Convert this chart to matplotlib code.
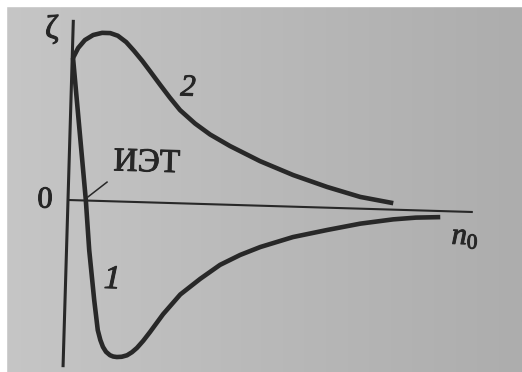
import numpy as np
import matplotlib.pyplot as plt
import matplotlib.patheffects as pe
from matplotlib.colors import LinearSegmentedColormap
from matplotlib.patches import Rectangle
from matplotlib.transforms import Affine2D

plt.rcParams['font.family'] = ['Liberation Serif', 'DejaVu Serif']
plt.rcParams['mathtext.fontset'] = 'custom'
plt.rcParams['mathtext.it'] = 'Liberation Serif:italic'
plt.rcParams['mathtext.rm'] = 'Liberation Serif'

# curve 1: zeta potential crossing zero at the isoelectric point
n0_1 = [0.02, 0.44, 0.56, 0.72, 0.83, 0.90, 0.97, 1.05, 1.15, 1.23, 1.32, 1.44,
        1.57, 1.69, 1.81, 1.96, 2.12, 2.43, 2.84, 3.32, 3.80, 4.29, 4.78, 5.58,
        6.42, 7.23, 8.04, 8.60, 9.20]
zeta_1 = [3.51, 0.01, -1.22, -2.45, -3.19, -3.43, -3.60, -3.72, -3.80, -3.83, -3.84, -3.83,
          -3.79, -3.71, -3.60, -3.42, -3.20, -2.75, -2.25, -1.85, -1.49, -1.23, -1.02, -0.75,
          -0.55, -0.37, -0.24, -0.18, -0.15]

# curve 2: stays positive, goes through a maximum
n0_2 = [0.02, 0.14, 0.30, 0.50, 0.72, 0.92, 1.11, 1.32, 1.52, 1.73, 1.93,
        2.19, 2.44, 2.70, 3.08, 3.46, 3.96, 4.71, 5.54, 6.39, 7.21, 8.03]
zeta_2 = [3.51, 3.76, 3.96, 4.09, 4.15, 4.15, 4.09, 3.94, 3.73, 3.49, 3.24,
          2.91, 2.60, 2.30, 1.98, 1.72, 1.45, 1.10, 0.78, 0.51, 0.29, 0.16]

N0_END = 10.0
ZETA_TOP, ZETA_BOTTOM = 4.45, -4.13
TILT = -1.7
ink = '#282828'
text_ink = '#262626'

fig = plt.figure(figsize=(5.22, 3.72), dpi=100)

# grey paper background, slightly darker to the right
bg = fig.add_axes([0, 0, 1, 1])
bg.axis('off')
paper = LinearSegmentedColormap.from_list('paper', ['#c6c6c6', '#b9b9b9', '#adadad'])
bg.imshow(np.linspace(0, 1, 256)[None, :], cmap=paper, aspect='auto', extent=[0, 1, 0, 1])
bg.set_xlim(0, 1)
bg.set_ylim(0, 1)
fig.patches.append(Rectangle((0, 1 - 6 / 372), 1, 6 / 372, transform=fig.transFigure,
                             color='white', zorder=5))
fig.patches.append(Rectangle((0, 0), 6 / 522, 1, transform=fig.transFigure,
                             color='white', zorder=5))

ax = fig.add_axes([0, 0, 1, 1], facecolor='none')
ax.set_xlim(-1.679, 11.21)
ax.set_ylim(-4.247, 4.938)
ax.axis('off')
rot = Affine2D().rotate_deg(TILT) + ax.transData

# axes
ax.plot([0, N0_END], [0, 0], transform=rot, color=ink, lw=1.5, solid_capstyle='butt')
ax.plot([0, 0], [ZETA_BOTTOM, ZETA_TOP], transform=rot, color=ink, lw=2.2, solid_capstyle='butt')

# curves
for xs, ys in ((n0_1, zeta_1), (n0_2, zeta_2)):
    ax.plot(xs, ys, transform=rot, color=ink, lw=3.3,
            solid_capstyle='butt', solid_joinstyle='round')

# pointer to the isoelectric point
ax.plot([0.49, 0.95], [0.09, 0.47], transform=rot, color=ink, lw=1.1)

def label(x, y, s, size, style='normal'):
    ax.text(x, y, s, transform=rot, rotation=TILT, rotation_mode='anchor',
            ha='center', va='center', fontsize=size, style=style, color=text_ink,
            path_effects=[pe.withStroke(linewidth=0.7, foreground=text_ink)])

label(1.92, 0.97, 'ИЭТ', 24)
label(-0.57, -0.02, '0', 22)
label(-0.52, 4.19, 'ζ', 24)
label(2.88, 2.85, '2', 22, 'italic')
label(1.15, -1.94, '1', 24, 'italic')
label(9.83, -0.62, r'$n_0$', 22)

fig.savefig('out.png', dpi=100)
